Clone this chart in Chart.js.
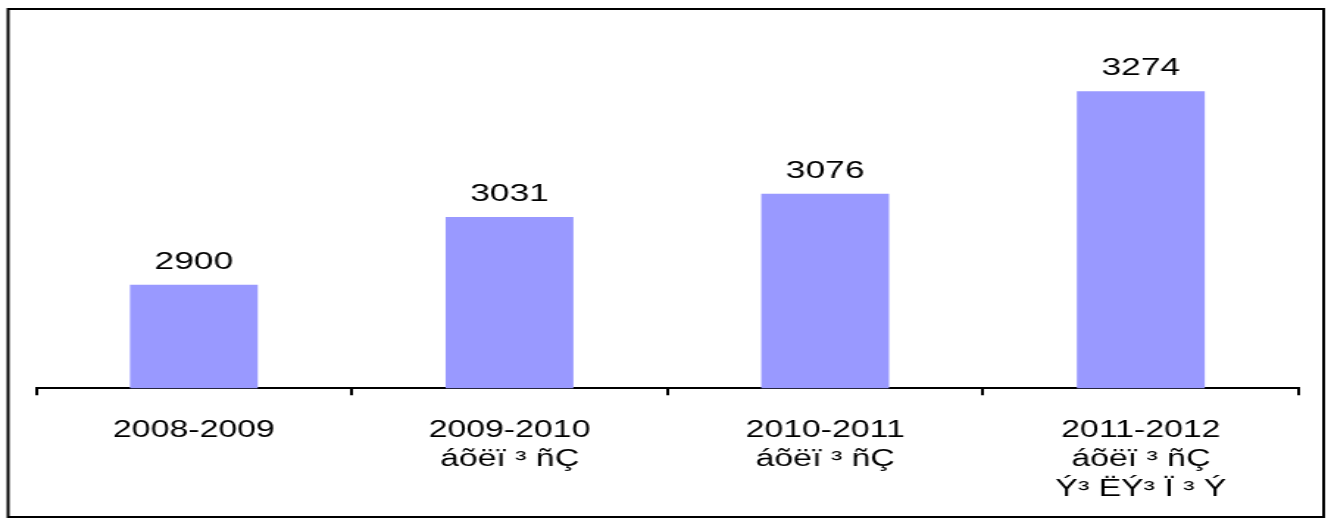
<!DOCTYPE html>
<html>
<head>
<meta charset="utf-8">
<script src="https://cdn.jsdelivr.net/npm/chart.js@4"></script>
<style>
	html, body { margin: 0; padding: 0; background: #fff; }
	#chart { position: absolute; left: 0; top: 0; }
</style>
</head>
<body>
<!-- the reference is stretched sideways, so the canvas is drawn narrow and widened by css -->
<canvas id="chart" width="905" height="524" style="width:1331px;height:524px"></canvas>
<script>
"use strict";


const barColor = "#9999ff";
const fontFamily = "'Liberation Sans', Arial, sans-serif";


const years = [
	"2008-2009",
	"2009-2010",
	"2010-2011",
	"2011-2012",
];

const notes = [
	[],
	["áõëï ³ ñÇ"],
	["áõëï ³ ñÇ"],
	["áõëï ³ ñÇ", "Ý³ ËÝ³ Ï ³ Ý"],
];

const values = [2900, 3031, 3076, 3274];


const labels = years.map((year, i) => [year, ...notes[i]]);


// value above each bar
const valueLabels = {
	id: "valueLabels",
	afterDatasetsDraw(chart) {
		const ctx = chart.ctx;
		const meta = chart.getDatasetMeta(0);
		ctx.save();
		ctx.fillStyle = "#000";
		ctx.font = "24px " + fontFamily;
		ctx.textAlign = "center";
		ctx.textBaseline = "alphabetic";
		meta.data.forEach((bar, i) => {
			ctx.fillText(String(chart.data.datasets[0].data[i]), bar.x, bar.y - 16);
		});
		ctx.restore();
	},
};


// frame round the whole picture
const frame = {
	id: "frame",
	afterDraw(chart) {
		const ctx = chart.ctx;
		ctx.save();
		ctx.strokeStyle = "#000";
		ctx.lineWidth = 2;
		ctx.strokeRect(5.5, 9, 894.5, 508);
		ctx.restore();
	},
};


const ctx = document.getElementById("chart").getContext("2d");

new Chart(ctx, {
	type: "bar",
	data: {
		labels: labels,
		datasets: [{
			data: values,
			backgroundColor: barColor,
			borderWidth: 0,
			categoryPercentage: 1,
			barPercentage: 0.405,
		}],
	},
	options: {
		responsive: false,
		animation: false,
		devicePixelRatio: 1,
		layout: {
			padding: { left: 24.5, right: 22, top: 26, bottom: 0 },
		},
		plugins: {
			legend: { display: false },
			tooltip: { enabled: false },
		},
		scales: {
			x: {
				// the label block sits a little lower than chart.js leaves room for
				afterFit(scale) {
					scale.height -= 1;
				},
				grid: {
					offset: true,
					drawOnChartArea: false,
					color: "#000",
					lineWidth: 2,
					tickLength: 7,
				},
				border: {
					color: "#000",
					width: 2,
				},
				ticks: {
					color: "#000",
					padding: 20,
					maxRotation: 0,
					autoSkip: false,
					font: {
						family: fontFamily,
						size: 23,
						lineHeight: 1.3,
					},
				},
			},
			y: {
				display: false,
				min: 2700,
				max: 3400,
			},
		},
	},
	plugins: [valueLabels, frame],
});
</script>
</body>
</html>
